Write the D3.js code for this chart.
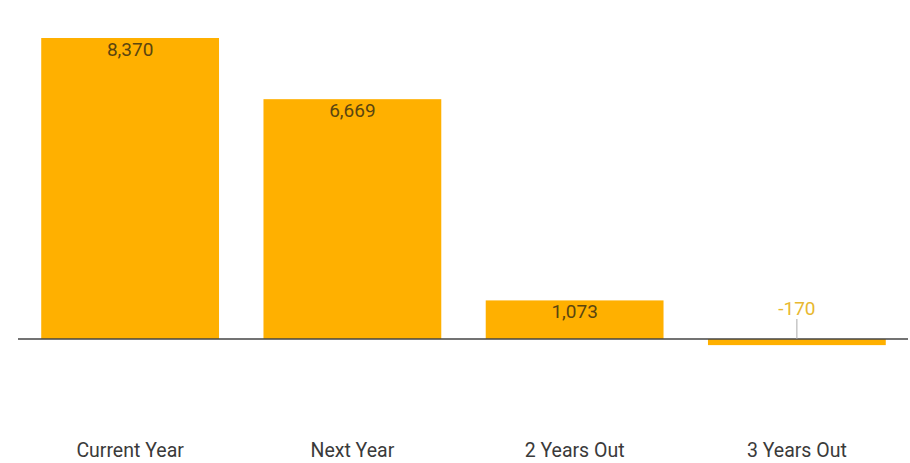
<!DOCTYPE html>
<html>
<head>
<meta charset="utf-8">
<script src="https://cdn.jsdelivr.net/npm/d3@7"></script>
<style>
  html, body { margin: 0; padding: 0; background: #fff; }
  svg { display: block; font-family: Roboto, "Liberation Sans", sans-serif; }
</style>
</head>
<body>
<svg id="chart" width="910" height="463"></svg>
<script>
// Forecast periods and their values
const categories = ["Current Year", "Next Year", "2 Years Out", "3 Years Out"];
const values = [8370, 6669, 1073, -170];

const svg = d3.select("#chart");
const baseline = 339;

const x = d3.scaleBand()
  .domain(categories)
  .range([19, 908])
  .paddingInner(0.2)
  .paddingOuter(0.1);

const y = d3.scaleLinear()
  .domain([0, 8370])
  .range([baseline, 38]);

// Thousands separator, plain hyphen for negatives
const fmt = d3.formatLocale({
  decimal: ".", thousands: ",", grouping: [3], currency: ["$", ""], minus: "-"
}).format(",");

const data = categories.map((c, i) => ({ cat: c, value: values[i] }));

// Bars
svg.append("g").selectAll("rect")
  .data(data)
  .join("rect")
  .attr("x", d => x(d.cat))
  .attr("width", x.bandwidth())
  .attr("y", d => Math.min(y(d.value), y(0)))
  .attr("height", d => Math.abs(y(d.value) - y(0)))
  .attr("fill", "#ffb000");

// Zero line
svg.append("line")
  .attr("x1", 18).attr("x2", 908)
  .attr("y1", y(0)).attr("y2", y(0))
  .attr("stroke", "#444")
  .attr("stroke-width", 1.5);

// Value labels: inside the bar for positives, above the axis with a leader for negatives
const labels = svg.append("g").attr("font-size", 19).attr("text-anchor", "middle");
data.forEach(d => {
  const cx = x(d.cat) + x.bandwidth() / 2;
  if (d.value >= 0) {
    labels.append("text")
      .attr("x", cx)
      .attr("y", y(d.value) + 18)
      .attr("fill", "#5a4510")
      .text(fmt(d.value));
  } else {
    labels.append("text")
      .attr("x", cx)
      .attr("y", y(0) - 24)
      .attr("fill", "#e8b830")
      .text(fmt(d.value));
    svg.append("line")
      .attr("x1", cx).attr("x2", cx)
      .attr("y1", y(0) - 20).attr("y2", y(0))
      .attr("stroke", "#aaa")
      .attr("stroke-width", 1);
  }
});

// Category axis labels
svg.append("g").attr("font-size", 19.5).attr("text-anchor", "middle")
  .selectAll("text")
  .data(categories)
  .join("text")
  .attr("x", d => x(d) + x.bandwidth() / 2)
  .attr("y", 457)
  .attr("fill", "#3a3a3a")
  .text(d => d);
</script>
</body>
</html>
